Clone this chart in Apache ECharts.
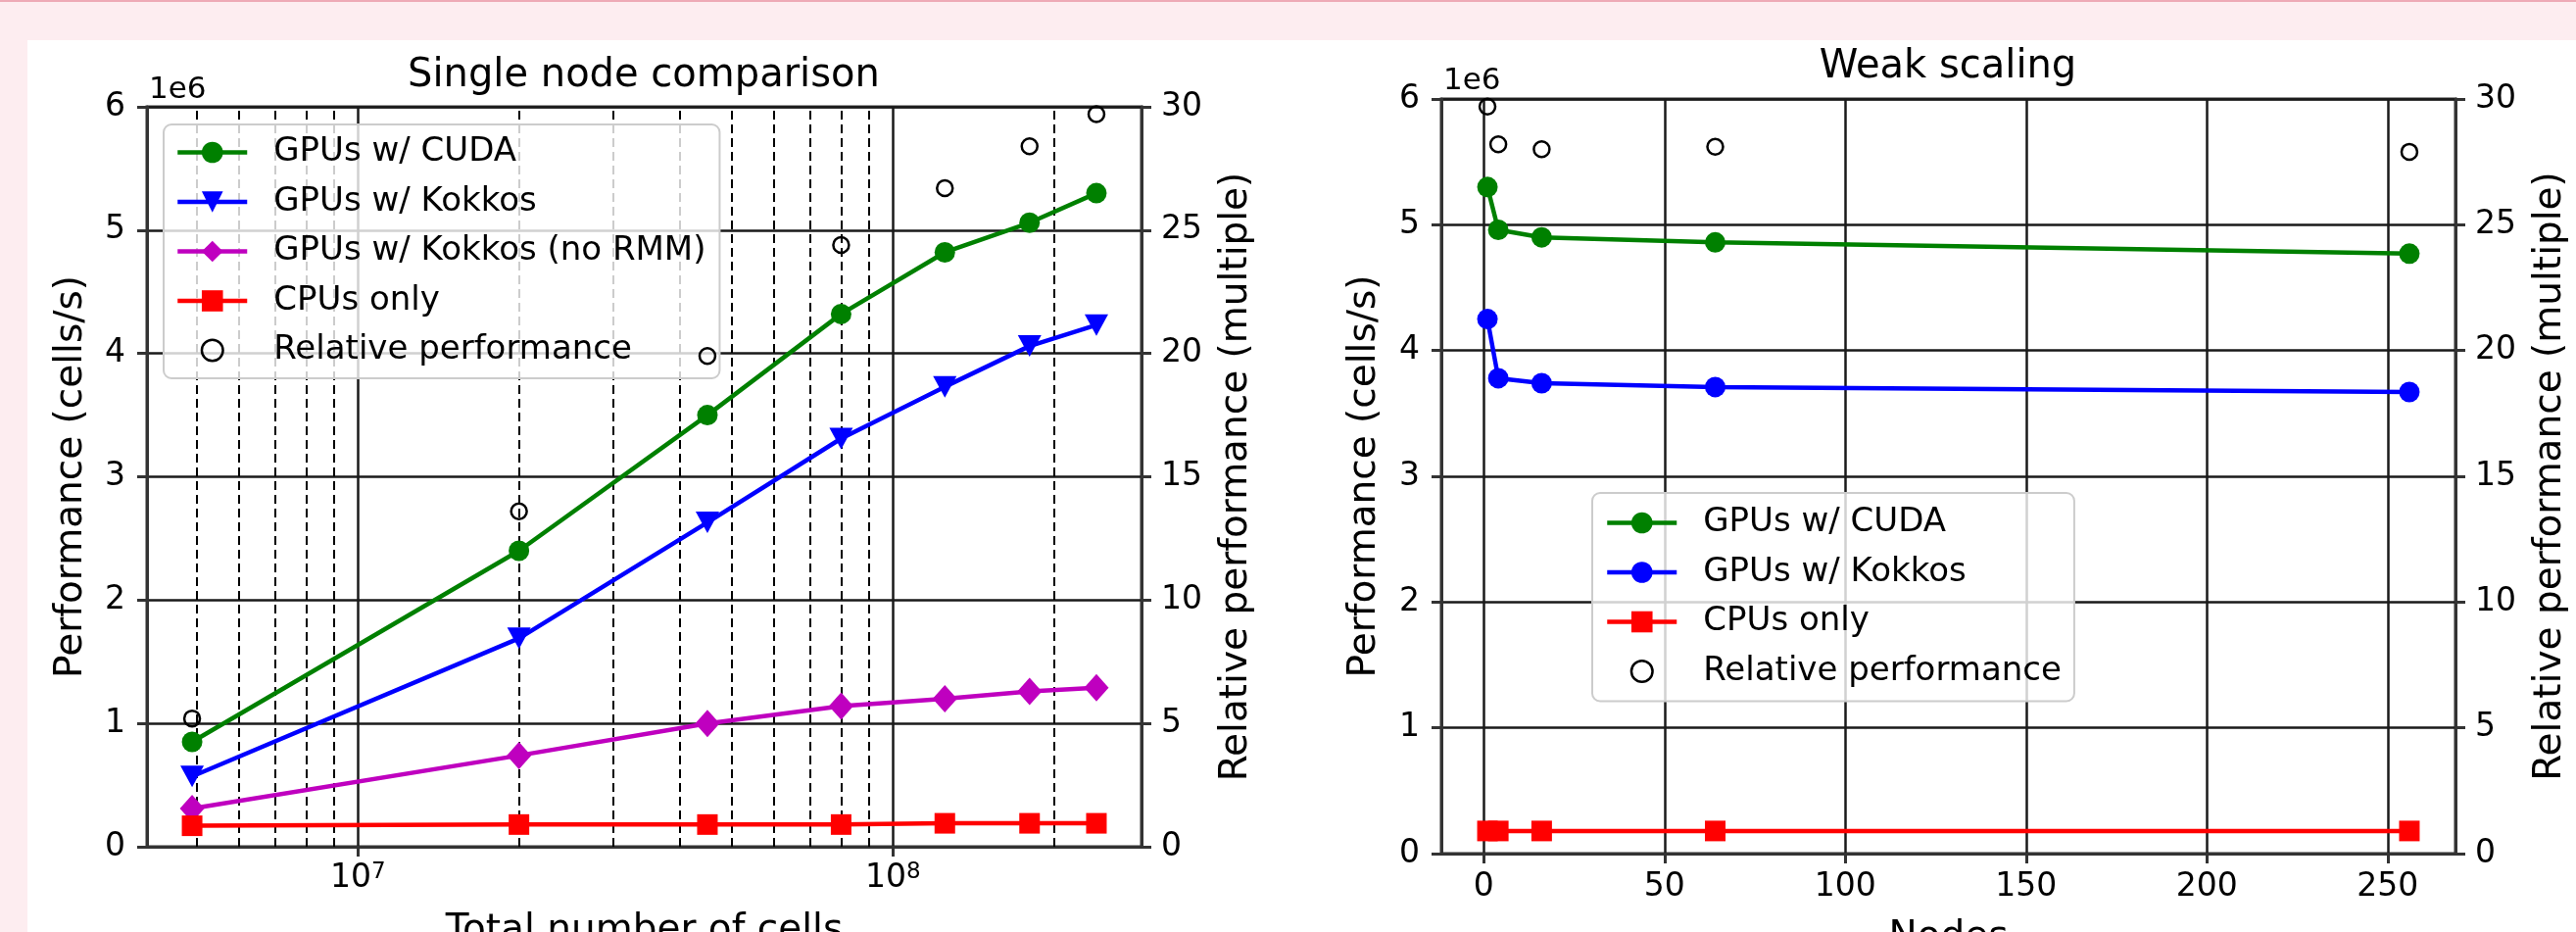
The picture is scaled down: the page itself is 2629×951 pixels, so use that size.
<!DOCTYPE html>
<html><head><meta charset="utf-8">
<script src="https://cdn.jsdelivr.net/npm/echarts@6/dist/echarts.min.js"></script>
<style>
html,body{margin:0;padding:0;width:2629px;height:951px;overflow:hidden;background:#fdedf0;}
#topline{position:absolute;left:0;top:0;width:2629px;height:2px;background:#eeaab6;}
#panel{position:absolute;left:28px;top:41px;width:2601px;height:910px;background:#ffffff;}
#chart{position:absolute;left:0;top:0;width:2629px;height:951px;}
</style></head><body>
<div id="topline"></div><div id="panel"></div><div id="chart"></div>
<script>
// ---------------- Data ----------------
// Left panel: single node comparison (performance in units of 1e6 cells/s)
const cellCounts   = [4.9e6, 2.0e7, 4.5e7, 8.0e7, 1.25e8, 1.8e8, 2.4e8];
const singleCuda   = [0.85, 2.40, 3.50, 4.32, 4.82, 5.06, 5.30];
const singleKokkos = [0.57, 1.69, 2.63, 3.31, 3.73, 4.06, 4.23];
const singleNoRmm  = [0.31, 0.74, 1.00, 1.14, 1.20, 1.26, 1.29];
const singleCpu    = [0.17, 0.18, 0.18, 0.18, 0.19, 0.19, 0.19];
const singleRel    = [5.2, 13.6, 19.9, 24.4, 26.7, 28.4, 29.7];
const minorGridCells = [5e6, 6e6, 7e6, 8e6, 9e6, 2e7, 3e7, 4e7, 5e7, 6e7, 7e7, 8e7, 9e7, 2e8];
// Right panel: weak scaling
const nodes      = [1, 4, 16, 64, 256];
const weakCuda   = [5.30, 4.96, 4.90, 4.86, 4.77];
const weakKokkos = [4.25, 3.78, 3.74, 3.71, 3.67];
const weakCpu    = [0.18, 0.18, 0.18, 0.18, 0.18];
const weakRel    = [29.7, 28.2, 28.0, 28.1, 27.9];
// Axis ranges / ticks
const perfRange = [0, 6], perfStep = 1;
const relRange = [0, 30], relStep = 5;
const cellsRange = [4.035e6, 2.914e8];
const nodesRange = [-11.75, 268.75];

const FONT = 'DejaVu Sans';
const AX = '#333333';
const GR = '#1a1a1a';
const pair = (xs, ys) => xs.map((x, i) => [x, ys[i]]);

function mk(name, xi, yi, xs, ys, color, symbol, size, rotate) {
  return { name, type: 'line', xAxisIndex: xi, yAxisIndex: yi, data: pair(xs, ys),
    symbol, symbolSize: size, symbolRotate: rotate || 0, showAllSymbol: true,
    itemStyle: { color }, lineStyle: { color, width: 4.5 },
    emphasis: { disabled: true }, z: 3, animation: false };
}
function rel(name, xi, yi, xs, ys) {
  return { name, type: 'line', xAxisIndex: xi, yAxisIndex: yi, data: pair(xs, ys),
    symbol: 'circle', symbolSize: 16, showAllSymbol: true,
    itemStyle: { color: 'rgba(0,0,0,0)', borderColor: '#000', borderWidth: 2.5 },
    lineStyle: { width: 0, opacity: 0 }, emphasis: { disabled: true }, z: 4, animation: false };
}
function yLeft(gi, gap) {
  return { type: 'value', gridIndex: gi, min: perfRange[0], max: perfRange[1], interval: perfStep, position: 'left',
    name: 'Performance (cells/s)', nameLocation: 'middle', nameGap: gap,
    nameTextStyle: { fontFamily: FONT, fontSize: 39, color: '#000', lineHeight: 40 },
    axisLine: { show: true, onZero: false, lineStyle: { color: AX, width: 3 } },
    axisTick: { show: true, length: 10, lineStyle: { color: AX, width: 3 } },
    axisLabel: { fontFamily: FONT, fontSize: 33, color: '#000', margin: 22 },
    splitLine: { show: true, lineStyle: { color: GR, width: 2.5 } } };
}
function yRight(gi, gap) {
  return { type: 'value', gridIndex: gi, min: relRange[0], max: relRange[1], interval: relStep, position: 'right',
    name: 'Relative performance (multiple)', nameLocation: 'middle', nameGap: gap,
    nameTextStyle: { fontFamily: FONT, fontSize: 39, color: '#000', lineHeight: 40 },
    axisLine: { show: true, onZero: false, lineStyle: { color: AX, width: 3 } },
    axisTick: { show: true, length: 10, lineStyle: { color: AX, width: 3 } },
    axisLabel: { fontFamily: FONT, fontSize: 33, color: '#000', margin: 20 },
    splitLine: { show: false } };
}
function legend(prefix, names, left, top, pad) {
  return { show: true, orient: 'vertical', left, top, padding: pad, itemGap: 14.5,
    itemWidth: 71, itemHeight: 27, selectedMode: false,
    backgroundColor: 'rgba(255,255,255,0.8)', borderColor: '#cccccc', borderWidth: 2, borderRadius: 8,
    formatter: n => n.slice(2),
    lineStyle: { width: 4.5 },
    textStyle: { fontFamily: FONT, fontSize: 34, color: '#000', lineHeight: 36, padding: [0, 0, 0, 22] },
    data: names.map(n => n === 'Relative performance'
      ? { name: prefix + n, itemStyle: { color: 'rgba(0,0,0,0)', borderColor: '#000', borderWidth: 2.5 },
          lineStyle: { width: 0, opacity: 0 } }
      : { name: prefix + n }) };
}

const option = {
  animation: false,
  title: [
    { text: 'Single node comparison', left: 657, top: 78, padding: 0, textAlign: 'center', textVerticalAlign: 'middle',
      textStyle: { fontFamily: FONT, fontSize: 40, fontWeight: 'normal', color: '#000' } },
    { text: 'Weak scaling', left: 1988, top: 69, padding: 0, textAlign: 'center', textVerticalAlign: 'middle',
      textStyle: { fontFamily: FONT, fontSize: 40, fontWeight: 'normal', color: '#000' } },
    { text: '1e6', left: 152, top: 92, padding: 0, textAlign: 'left', textVerticalAlign: 'middle',
      textStyle: { fontFamily: FONT, fontSize: 31, fontWeight: 'normal', color: '#000' } },
    { text: '1e6', left: 1473, top: 83, padding: 0, textAlign: 'left', textVerticalAlign: 'middle',
      textStyle: { fontFamily: FONT, fontSize: 31, fontWeight: 'normal', color: '#000' } }
  ],
  grid: [
    { left: 150, top: 109, width: 1015, height: 755, show: true, borderColor: AX, borderWidth: 3,
      backgroundColor: 'transparent', containLabel: false, outerBoundsMode: 'none' },
    { left: 1471, top: 101, width: 1035, height: 770, show: true, borderColor: AX, borderWidth: 3,
      backgroundColor: 'transparent', containLabel: false, outerBoundsMode: 'none' }
  ],
  xAxis: [
    { type: 'log', logBase: 10, gridIndex: 0, min: cellsRange[0], max: cellsRange[1],
      name: 'Total number of cells', nameLocation: 'middle', nameGap: 66,
      nameTextStyle: { fontFamily: FONT, fontSize: 39, color: '#000', lineHeight: 40 },
      axisLine: { show: true, onZero: false, lineStyle: { color: AX, width: 3 } },
      axisTick: { show: true, length: 10, lineStyle: { color: AX, width: 3 } },
      axisLabel: { showMinLabel: false, showMaxLabel: false, margin: 15,
        formatter: v => '{b|10}{s|' + Math.round(Math.log10(v)) + '}',
        rich: { b: { fontFamily: FONT, fontSize: 33, color: '#000', lineHeight: 34, verticalAlign: 'bottom' },
                s: { fontFamily: FONT, fontSize: 23, color: '#000', lineHeight: 34, verticalAlign: 'top' } } },
      splitLine: { show: true, lineStyle: { color: GR, width: 2.5 } } },
    { type: 'value', gridIndex: 1, min: nodesRange[0], max: nodesRange[1],
      name: 'Nodes', nameLocation: 'middle', nameGap: 66,
      nameTextStyle: { fontFamily: FONT, fontSize: 39, color: '#000', lineHeight: 40 },
      axisLine: { show: true, onZero: false, lineStyle: { color: AX, width: 3 } },
      axisTick: { show: true, length: 10, lineStyle: { color: AX, width: 3 } },
      axisLabel: { showMinLabel: false, showMaxLabel: false, margin: 18, fontFamily: FONT, fontSize: 33, color: '#000' },
      splitLine: { show: true, lineStyle: { color: GR, width: 2.5 } } }
  ],
  yAxis: [ yLeft(0, 57), yRight(0, 77), yLeft(1, 58), yRight(1, 77) ],
  legend: [
    legend('L|', ['GPUs w/ CUDA', 'GPUs w/ Kokkos', 'GPUs w/ Kokkos (no RMM)', 'CPUs only', 'Relative performance'],
      167, 127, [10.5, 14, 10.5, 12]),
    legend('R|', ['GPUs w/ CUDA', 'GPUs w/ Kokkos', 'CPUs only', 'Relative performance'],
      1625, 503, [12.5, 13, 12.5, 13])
  ],
  series: [
    Object.assign(mk('L|GPUs w/ CUDA', 0, 0, cellCounts, singleCuda, '#008000', 'circle', 21), {
      markLine: { silent: true, symbol: 'none', animation: false, z: 1, label: { show: false },
        lineStyle: { color: '#000', type: [9, 5], width: 2 }, emphasis: { disabled: true },
        data: minorGridCells.map(v => ({ xAxis: v })) } }),
    mk('L|GPUs w/ Kokkos', 0, 0, cellCounts, singleKokkos, '#0000ff', 'triangle', [24, 22], 180),
    mk('L|GPUs w/ Kokkos (no RMM)', 0, 0, cellCounts, singleNoRmm, '#bf00bf', 'diamond', [25, 28]),
    mk('L|CPUs only', 0, 0, cellCounts, singleCpu, '#ff0000', 'rect', 21),
    rel('L|Relative performance', 0, 1, cellCounts, singleRel),
    mk('R|GPUs w/ CUDA', 1, 2, nodes, weakCuda, '#008000', 'circle', 21),
    mk('R|GPUs w/ Kokkos', 1, 2, nodes, weakKokkos, '#0000ff', 'circle', 21),
    mk('R|CPUs only', 1, 2, nodes, weakCpu, '#ff0000', 'rect', 21),
    rel('R|Relative performance', 1, 3, nodes, weakRel)
  ]
};
const chart = echarts.init(document.getElementById('chart'), null, { renderer: 'canvas', width: 2629, height: 951 });
chart.setOption(option);
</script>
</body></html>
